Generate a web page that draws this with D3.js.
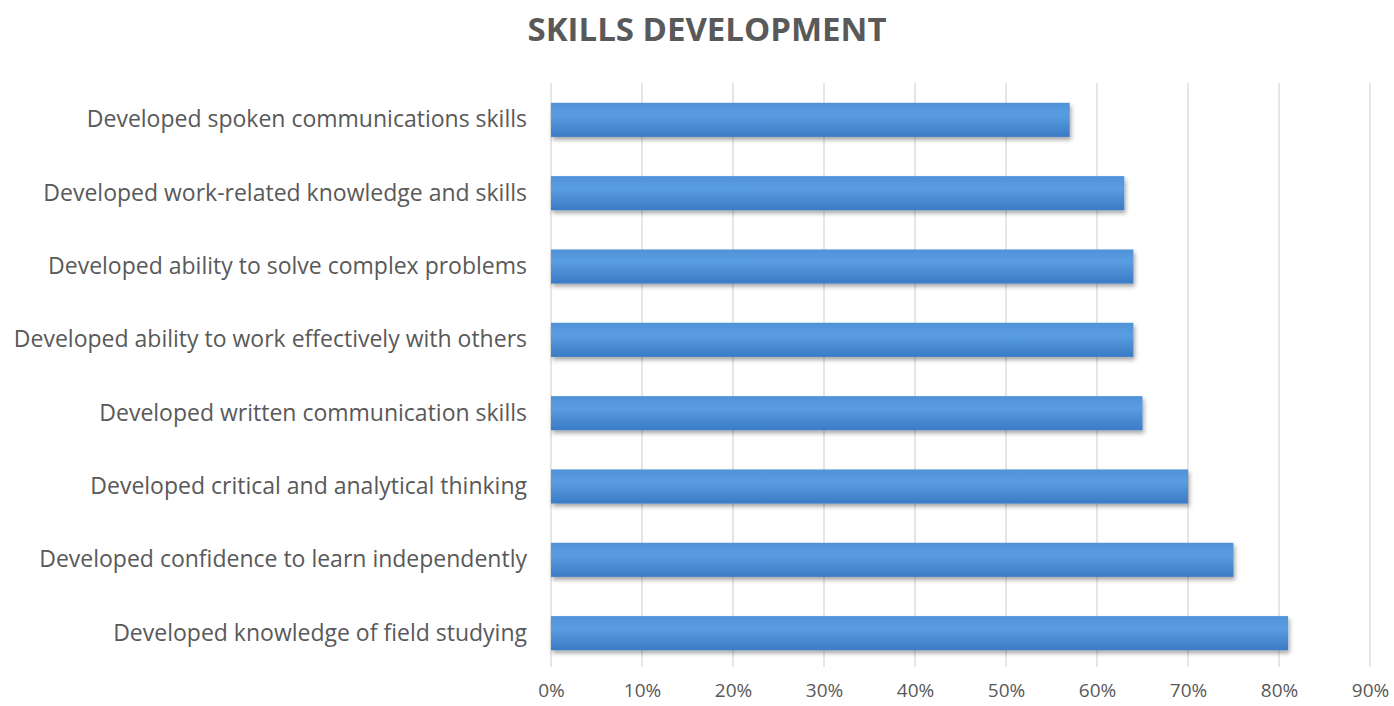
<!DOCTYPE html>
<html>
<head>
<meta charset="utf-8">
<script src="https://cdn.jsdelivr.net/npm/d3@7"></script>
<style>
  html, body { margin: 0; padding: 0; background: #fff; }
  svg { display: block; }
</style>
</head>
<body>
<svg id="chart" width="1394" height="706"></svg>
<script>
// Survey results: share of respondents reporting each skill gain
const categories = [
  "Developed spoken communications skills",
  "Developed work-related knowledge and skills",
  "Developed ability to solve complex problems",
  "Developed ability to work effectively with others",
  "Developed written communication skills",
  "Developed critical and analytical thinking",
  "Developed confidence to learn independently",
  "Developed knowledge of field studying"
];
const values = [0.57, 0.63, 0.64, 0.64, 0.65, 0.70, 0.75, 0.81];
const tickValues = [0, 0.1, 0.2, 0.3, 0.4, 0.5, 0.6, 0.7, 0.8, 0.9];
const title = "SKILLS DEVELOPMENT";

const svg = d3.select("#chart");
const margin = { top: 83, left: 551, right: 24, bottom: 36 };
const W = 1394, H = 706;

const x = d3.scaleLinear().domain([0, 0.9]).range([margin.left, W - margin.right]);
const y = d3.scaleBand().domain(categories).range([margin.top, H - margin.bottom]).paddingInner(0.535).paddingOuter(0.27);

const defs = svg.append("defs");
const grad = defs.append("linearGradient").attr("id", "barGrad").attr("x1", 0).attr("y1", 0).attr("x2", 0).attr("y2", 1);
grad.append("stop").attr("offset", "0%").attr("stop-color", "#4f92d8");
grad.append("stop").attr("offset", "35%").attr("stop-color", "#5a9de0");
grad.append("stop").attr("offset", "100%").attr("stop-color", "#3a7bc6");

const shadow = defs.append("filter").attr("id", "barShadow").attr("x", "-5%").attr("y", "-20%").attr("width", "110%").attr("height", "160%");
shadow.append("feDropShadow").attr("dx", 1.5).attr("dy", 3).attr("stdDeviation", 2).attr("flood-color", "#000").attr("flood-opacity", 0.35);

// Title
svg.append("text")
  .attr("x", 707).attr("y", 41)
  .attr("text-anchor", "middle")
  .attr("font-family", "'Open Sans', sans-serif")
  .attr("font-weight", 700)
  .attr("font-size", 33)
  .attr("fill", "#595959")
  .text(title);

// Vertical gridlines
svg.append("g")
  .selectAll("line")
  .data(tickValues)
  .join("line")
  .attr("x1", d => x(d)).attr("x2", d => x(d))
  .attr("y1", margin.top).attr("y2", H - margin.bottom - 3)
  .attr("stroke", "#d9d9d9").attr("stroke-width", 1.3);

// Bars
svg.append("g")
  .selectAll("rect")
  .data(categories)
  .join("rect")
  .attr("x", x(0))
  .attr("y", d => y(d))
  .attr("width", (d, i) => x(values[i]) - x(0))
  .attr("height", y.bandwidth())
  .attr("fill", "url(#barGrad)")
  .attr("filter", "url(#barShadow)");

// Category labels
const yAxis = svg.append("g")
  .attr("transform", `translate(${margin.left},0)`)
  .call(d3.axisLeft(y).tickSize(0).tickPadding(24));
yAxis.select(".domain").remove();
yAxis.selectAll("text")
  .attr("font-family", "'Open Sans', sans-serif")
  .attr("font-size", 23)
  .attr("fill", "#595959");

// Percentage axis
const xAxis = svg.append("g")
  .attr("transform", `translate(0,${H - margin.bottom})`)
  .call(d3.axisBottom(x).tickValues(tickValues).tickFormat(d3.format(".0%")).tickSize(0).tickPadding(14));
xAxis.select(".domain").remove();
xAxis.selectAll("text")
  .attr("font-family", "'Open Sans', sans-serif")
  .attr("font-size", 19)
  .attr("fill", "#595959");
</script>
</body>
</html>
